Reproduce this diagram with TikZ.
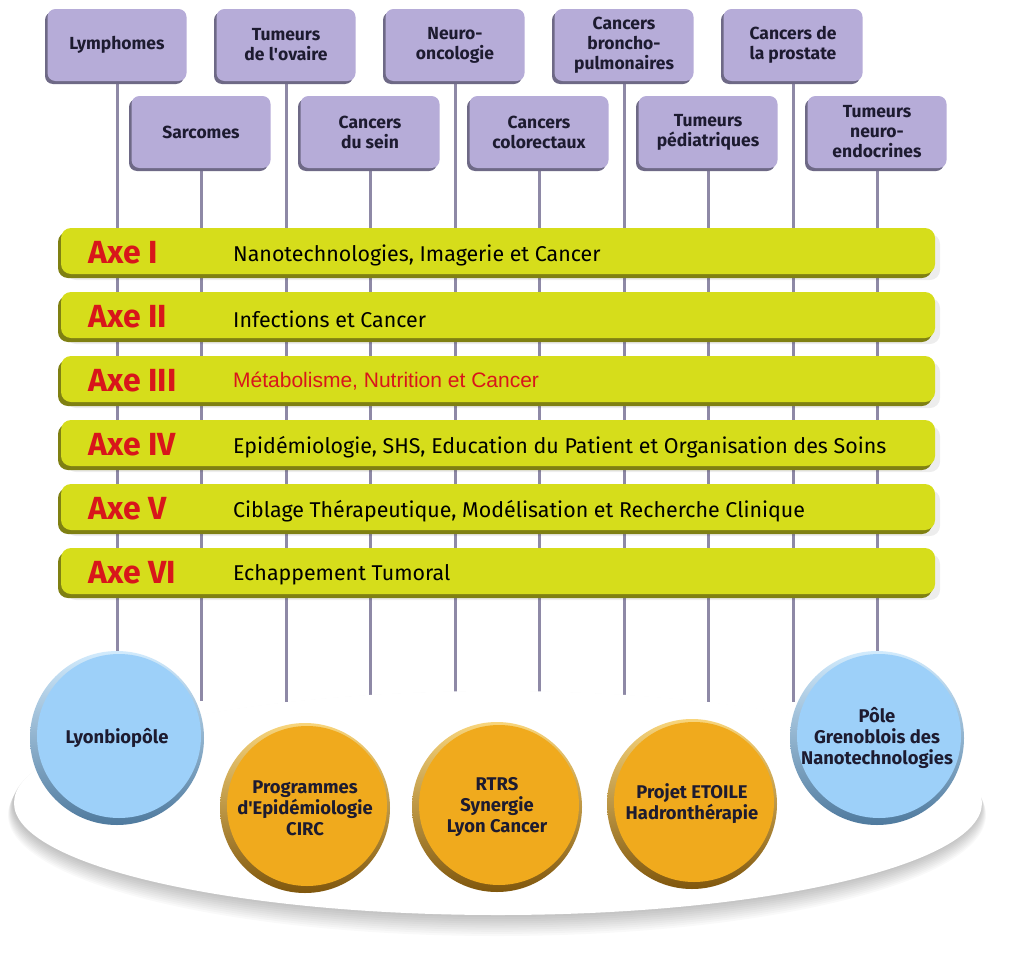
\documentclass[tikz,border=0pt]{standalone}
\usepackage{fontspec}
\setmainfont{Fira Sans}
\newfontfamily\arialfont{Liberation Sans}
\usetikzlibrary{shadows,backgrounds}

\definecolor{boxfill}{HTML}{B6ACD8}
\definecolor{boxedge}{HTML}{6E6986}
\definecolor{boxtext}{HTML}{1D1B30}
\definecolor{linecol}{HTML}{8E89A6}
\definecolor{barfill}{HTML}{D6DD1B}
\definecolor{baredge}{HTML}{7F8012}
\definecolor{axered}{HTML}{D8161B}
\definecolor{bluefill}{HTML}{9DD0F9}
\definecolor{bluedark}{HTML}{4F7A9E}
\definecolor{bluelight}{HTML}{D2EBFD}
\definecolor{orfill}{HTML}{F0AA1D}
\definecolor{ordark}{HTML}{80570D}
\definecolor{orlight}{HTML}{F8D57C}

\tikzset{
  cancerbox/.style={rectangle, rounded corners=8pt, minimum width=139pt,
    minimum height=72pt, inner sep=2pt, fill=boxfill, align=center,
    text=boxtext, font=\bfseries\fontsize{17.5}{20}\selectfont,
    drop shadow={shadow xshift=-2.5pt, shadow yshift=-3pt, fill=boxedge, opacity=1}},
  axebar/.style={rectangle, rounded corners=10pt, minimum width=874pt,
    minimum height=46pt, fill=barfill,
    drop shadow={shadow xshift=5pt, shadow yshift=-6pt, fill=black, opacity=.07},
    drop shadow={shadow xshift=-3pt, shadow yshift=-4pt, fill=baredge, opacity=1}},
  axename/.style={anchor=west, inner sep=0pt, text=axered,
    font=\bfseries\fontsize{32}{32}\selectfont},
  axetext/.style={anchor=west, inner sep=0pt, font=\fontsize{21.4}{21.4}\selectfont},
  ball/.style={circle, inner sep=0pt, align=center, text=boxtext,
    font=\bfseries\fontsize{18.4}{21}\selectfont, shading=axis, shading angle=-45},
  blueball/.style={ball, minimum size=174pt, top color=bluelight, bottom color=bluedark,
    path picture={\fill[bluefill] ([shift={(2pt,2pt)}]path picture bounding box.center) circle (82pt);}},
  orangeball/.style={ball, minimum size=170pt, top color=orlight, bottom color=ordark,
    path picture={\fill[orfill] ([shift={(2pt,2pt)}]path picture bounding box.center) circle (80pt);}}
}

\begin{document}
\begin{tikzpicture}[x=1pt,y=-1pt]

      \useasboundingbox (0,0) rectangle (1009,961);

      % pathologies
      \begin{scope}[every node/.style={cancerbox}]
        \node (1)  at (117,45)  {Lymphomes};
        \node (2)  at (201,132) {Sarcomes};
        \node (3)  at (286,45)  {Tumeurs\\de l\textquotesingle ovaire};
        \node (4)  at (370,132) {Cancers\\du sein};
        \node (5)  at (455,45)  {Neuro-\\oncologie};
        \node (6)  at (539,132) {Cancers\\colorectaux};
        \node (7)  at (624,45)  {Cancers\\broncho-\\pulmonaires};
        \node (8)  at (708,132) {Tumeurs\\pédiatriques};
        \node (9)  at (793,45)  {Cancers de\\la prostate};
        \node (10) at (877,132) {Tumeurs\\neuro-\\endocrines};
      \end{scope}

      % axes
      \node[axebar] (I)   at (498,251) {};
      \node[axebar] (II)  at (498,315) {};
      \node[axebar] (III) at (498,379) {};
      \node[axebar] (IV)  at (498,443) {};
      \node[axebar] (V)   at (498,507) {};
      \node[axebar] (VI)  at (498,571) {};

      \node[axename] (aI)   at (88,253) {Axe I};
      \node[axename] (aII)  at (88,317) {Axe II};
      \node[axename] (aIII) at (88,381) {Axe III};
      \node[axename] (aIV)  at (88,445) {Axe IV};
      \node[axename] (aV)   at (88,509) {Axe V};
      \node[axename] (aVI)  at (88,573) {Axe VI};

      \node[axetext] (tI)   at (233,255) {Nanotechnologies, Imagerie et Cancer};
      \node[axetext] (tII)  at (233,319) {Infections et Cancer};
      \node[axetext, text=axered, font=\arialfont\fontsize{21}{21}\selectfont]
                     (tIII) at (233,381) {Métabolisme, Nutrition et Cancer};
      \node[axetext] (tIV)  at (233,447) {Epidémiologie, SHS, Education du Patient et Organisation des Soins};
      \node[axetext] (tV)   at (233,511) {Ciblage Thérapeutique, Modélisation et Recherche Clinique};
      \node[axetext] (tVI)  at (233,575) {Echappement Tumoral};

      % platform
      \foreach \s in {1,...,10}
        \fill[black, opacity=.022] (497,{803+1.2*\s}) ellipse ({484pt+0.5pt*\s} and {112pt+0.9pt*\s});
      \fill[white] (498,803) ellipse (484pt and 112pt);

      % partners
      \node[blueball]   (11) at (117,738) {Lyonbiopôle};
      \node[orangeball] (12) at (305,808) {Programmes\\d\textquotesingle Epidémiologie\\CIRC};
      \node[orangeball] (13) at (497,807) {RTRS\\Synergie\\Lyon Cancer};
      \node[orangeball] (14) at (692,804) {Projet ETOILE\\Hadronthérapie};
      \node[blueball]   (15) at (877,738) {Pôle\\Grenoblois des\\Nanotechnologies};

      \coordinate (e2) at (201,701);
      \coordinate (e3) at (286,702);
      \coordinate (e4) at (370,696);
      \coordinate (e5) at (455,692);
      \coordinate (e6) at (539,692);
      \coordinate (e7) at (624,695);
      \coordinate (e8) at (708,702);
      \coordinate (e9) at (793,702);

      \begin{pgfonlayer}{background}
        \fill[white] (0,0) rectangle (1009,961);
        \begin{scope}[every edge/.style={draw, linecol, line width=3pt}]
          \path (1)  edge (11);
          \path (2)  edge (e2);
          \path (3)  edge (e3);
          \path (4)  edge (e4);
          \path (5)  edge (e5);
          \path (6)  edge (e6);
          \path (7)  edge (e7);
          \path (8)  edge (e8);
          \path (9)  edge (e9);
          \path (10) edge (15);
        \end{scope}
      \end{pgfonlayer}

    \end{tikzpicture}
\end{document}
